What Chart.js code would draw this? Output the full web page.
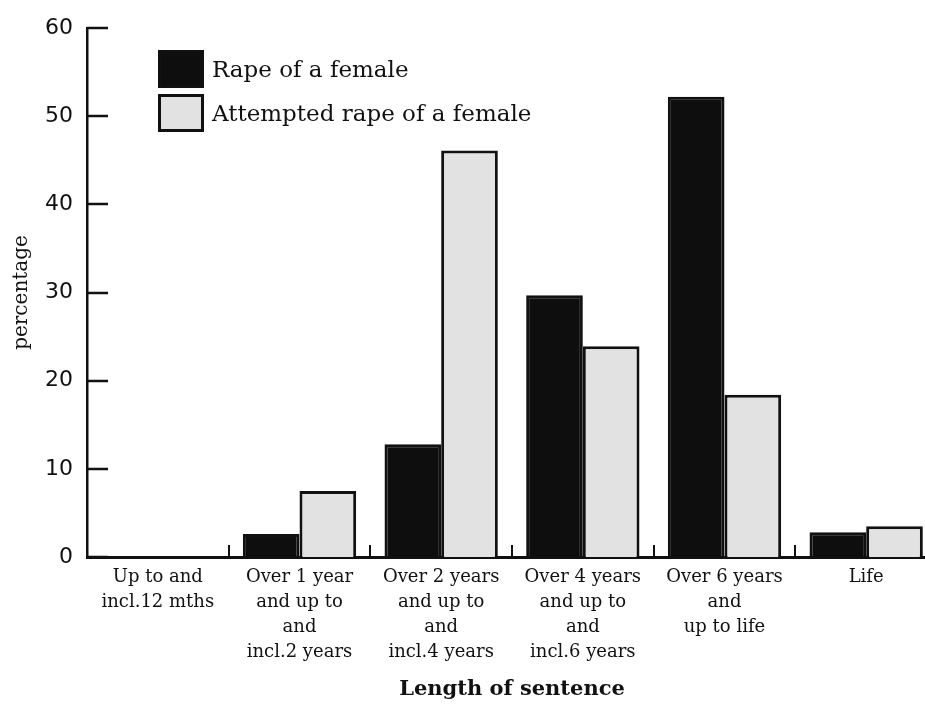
<!DOCTYPE html>
<html><head><meta charset="utf-8">
<script src="https://cdn.jsdelivr.net/npm/chart.js@4.4.1/dist/chart.umd.min.js"></script>
<style>html,body{margin:0;padding:0;background:#fff;overflow:hidden;}
#wrap{position:relative;width:940px;height:707px;}
</style></head><body><div id="wrap"><canvas id="c" width="940" height="707"></canvas></div>
<script>
const categories = [
  ["Up to and", "incl.12 mths"],
  ["Over 1 year", "and up to", "and", "incl.2 years"],
  ["Over 2 years", "and up to", "and", "incl.4 years"],
  ["Over 4 years", "and up to", "and", "incl.6 years"],
  ["Over 6 years", "and", "up to life"],
  ["Life"]
];
const seriesLabels = ["Rape of a female", "Attempted rape of a female"];
const rapeValues = [0, 2.6, 12.8, 29.7, 52.2, 2.8];
const attemptedValues = [0, 7.5, 46.1, 23.9, 18.4, 3.5];
const yTickValues = [0, 10, 20, 30, 40, 50, 60];
const yTitle = "percentage";
const xTitle = "Length of sentence";

const INK = '#111111';

const decoPlugin = {
  id: 'deco',
  afterDraw(chart) {
    const {ctx, scales: {x, y}, chartArea} = chart;
    ctx.save();
    ctx.strokeStyle = INK;
    ctx.lineWidth = 2.5;
    // y tick marks drawn inside the plot
    yTickValues.forEach(v => {
      const py = Math.round(y.getPixelForValue(v));
      ctx.beginPath();
      ctx.moveTo(chartArea.left, py);
      ctx.lineTo(chartArea.left + 21, py);
      ctx.stroke();
    });
    // x category boundary ticks
    ctx.lineWidth = 2;
    for (let i = 1; i < categories.length; i++) {
      const px = Math.round((x.getPixelForValue(i - 1) + x.getPixelForValue(i)) / 2);
      ctx.beginPath();
      ctx.moveTo(px, chartArea.bottom);
      ctx.lineTo(px, chartArea.bottom - 12);
      ctx.stroke();
    }
    // legend
    const ds = chart.data.datasets;
    const bx = 158, by = [50, 94], bw = 46, bh = 38;
    ds.forEach((d, i) => {
      ctx.fillStyle = d.backgroundColor;
      ctx.fillRect(bx, by[i], bw, bh);
      ctx.lineWidth = 3;
      ctx.strokeStyle = INK;
      ctx.strokeRect(bx + 1.5, by[i] + 1.5, bw - 3, bh - 3);
      ctx.fillStyle = INK;
      ctx.font = '23px "DejaVu Serif"';
      ctx.textBaseline = 'middle';
      ctx.textAlign = 'left';
      ctx.fillText(d.label, bx + bw + 8, by[i] + bh / 2 + 2);
    });
    ctx.restore();
  }
};

new Chart(document.getElementById('c'), {
  type: 'bar',
  data: {
    labels: categories,
    datasets: [
      { label: seriesLabels[0], data: rapeValues, backgroundColor: '#0e0e0e', borderColor: INK, borderWidth: 3 },
      { label: seriesLabels[1], data: attemptedValues, backgroundColor: '#e2e2e2', borderColor: INK, borderWidth: 3 }
    ]
  },
  options: {
    responsive: false,
    devicePixelRatio: 1,
    animation: false,
    categoryPercentage: 0.8,
    barPercentage: 1.0,
    layout: { padding: { left: 0, top: 28, right: 3, bottom: 0 } },
    plugins: { legend: { display: false }, tooltip: { enabled: false } },
    scales: {
      x: {
        grid: { display: false, drawTicks: false },
        border: { display: true, color: INK, width: 3 },
        ticks: {
          color: INK, maxRotation: 0, minRotation: 0, autoSkip: false, padding: 8,
          font: { family: 'DejaVu Serif', size: 18, lineHeight: '25px' }
        },
        title: {
          display: true, text: xTitle, color: INK,
          font: { family: 'DejaVu Serif', size: 21, weight: 'bold' },
          padding: { top: 0, bottom: 5 }
        },
        afterFit(s) { s.height = 150; }
      },
      y: {
        min: 0, max: 60,
        afterBuildTicks(s) { s.ticks = yTickValues.map(v => ({ value: v })); },
        grid: { display: false, drawTicks: false },
        border: { display: true, color: INK, width: 2.5 },
        ticks: {
          color: INK, padding: 14,
          font: { family: 'DejaVu Sans', size: 22 }
        },
        title: {
          display: true, text: yTitle, color: INK,
          font: { family: 'DejaVu Serif', size: 20 },
          padding: { top: 10, bottom: 0 }
        },
        afterFit(s) { s.width = 87; }
      }
    }
  },
  plugins: [decoPlugin]
});
</script></body></html>
